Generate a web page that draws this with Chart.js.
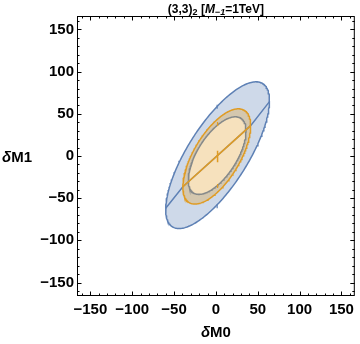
<!DOCTYPE html>
<html><head><meta charset="utf-8">
<script src="https://cdn.jsdelivr.net/npm/chart.js@4/dist/chart.umd.min.js"></script>
<style>html,body{margin:0;padding:0;background:#fff}canvas{display:block}</style>
</head><body>
<canvas id="c" width="360" height="344"></canvas>
<script>
// ---- axes ----
const xRange = [-166, 166];
const yRange = [-166, 166];
const tickValues = [-150, -100, -50, 0, 50, 100, 150];
const minorTickStep = 10;

// ---- confidence ellipses: [outer blue, inner blue, orange] ----
const ellipseCenterX = [2, 1.5, 1];
const ellipseCenterY = [1, 0.5, -0.5];
const ellipseHalfWidth = [62, 34.5, 40.5];
const ellipseHalfHeight = [87, 46, 56.5];
const ellipseCorrelation = [0.742, 0.63, 0.642];

// ---- lines through the ellipses ----
const blueLineX = [-60, -39.5, 41.5, 64];
const blueLineY = [-62, -36.5, 36, 64.5];
const orangeLineX = [-39.5, 41.5];
const orangeLineY = [-36.5, 36];

// ---- small markers ----
const blueTickX = [1.5, 1.5];
const blueTickY = [58.5, -59.5];
const orangeTickX = [2, 2];
const orangeTickY = [38, -35.5];
const centerBarX = [2, 2];
const centerBarY = [-7.5, 6.3];

const BLUE = '#5E81B5';
const ORANGE = '#E09C24';

function ellipsePoints(i) {
  const pts = [];
  const n = 240;
  const r = ellipseCorrelation[i];
  const s = Math.sqrt(1 - r * r);
  for (let k = 0; k <= n; k++) {
    const t = 2 * Math.PI * k / n;
    pts.push({
      x: ellipseCenterX[i] + ellipseHalfWidth[i] * Math.cos(t),
      y: ellipseCenterY[i] + ellipseHalfHeight[i] * (r * Math.cos(t) + s * Math.sin(t))
    });
  }
  return pts;
}
const zip = (xs, ys) => xs.map((x, i) => ({x, y: ys[i]}));

const datasets = [
  {data: ellipsePoints(0), borderColor: BLUE, borderWidth: 1.5, backgroundColor: 'rgba(94,129,181,0.3)', fill: 'shape', pointRadius: 0, order: 10},
  {data: ellipsePoints(1), borderColor: BLUE, borderWidth: 1.5, backgroundColor: '#ffffff', fill: 'shape', pointRadius: 0, order: 9},
  {data: zip(blueLineX, blueLineY), borderColor: BLUE, borderWidth: 1.5, fill: false, pointRadius: 0, order: 8},
  {data: ellipsePoints(2), borderColor: ORANGE, borderWidth: 1.5, backgroundColor: 'rgba(224,156,36,0.3)', fill: 'shape', pointRadius: 0, order: 7},
  {data: zip(orangeLineX, orangeLineY), borderColor: ORANGE, borderWidth: 1.5, fill: false, pointRadius: 0, order: 6},
  {data: zip(blueTickX, blueTickY), showLine: false, pointStyle: 'line', rotation: 90, pointRadius: 2, borderColor: BLUE, borderWidth: 1.2, order: 5},
  {data: zip(orangeTickX, orangeTickY), showLine: false, pointStyle: 'line', rotation: 90, pointRadius: 2, borderColor: ORANGE, borderWidth: 1.2, order: 4},
  {data: zip(centerBarX, centerBarY), borderColor: ORANGE, borderWidth: 1.5, fill: false, pointRadius: 0, order: 3}
];

const fmt = v => (v < 0 ? '\u2212' + Math.abs(v) : String(v));
const FONT = "'Liberation Sans', Arial, sans-serif";

function drawRuns(ctx, runs, x, baseline, align) {
  let total = 0;
  runs.forEach(r => { ctx.font = r.f; total += ctx.measureText(r.t).width; });
  let cx = align === 'center' ? x - total / 2 : x;
  runs.forEach(r => {
    ctx.font = r.f;
    ctx.fillText(r.t, cx, baseline + (r.dy || 0));
    cx += ctx.measureText(r.t).width;
  });
}

const framePlugin = {
  id: 'frame',
  afterDraw(chart) {
    const {ctx, chartArea: a, scales: {x, y}} = chart;
    ctx.save();
    ctx.strokeStyle = '#000';
    ctx.lineWidth = 1;
    ctx.strokeRect(a.left + 0.5, a.top + 0.5, a.right - a.left - 1, a.bottom - a.top - 1);
    ctx.beginPath();
    const startV = Math.ceil(xRange[0] / minorTickStep) * minorTickStep;
    for (let v = startV; v <= xRange[1]; v += minorTickStep) {
      const len = v % 50 === 0 ? 4.5 : 2.5;
      const px = Math.round(x.getPixelForValue(v)) + 0.5;
      ctx.moveTo(px, a.bottom); ctx.lineTo(px, a.bottom - len);
      ctx.moveTo(px, a.top); ctx.lineTo(px, a.top + len);
    }
    const startY = Math.ceil(yRange[0] / minorTickStep) * minorTickStep;
    for (let v = startY; v <= yRange[1]; v += minorTickStep) {
      const len = v % 50 === 0 ? 4.5 : 2.5;
      const py = Math.round(y.getPixelForValue(v)) + 0.5;
      ctx.moveTo(a.left, py); ctx.lineTo(a.left + len, py);
      ctx.moveTo(a.right, py); ctx.lineTo(a.right - len, py);
    }
    ctx.stroke();

    ctx.fillStyle = '#000';
    ctx.textBaseline = 'alphabetic';
    ctx.textAlign = 'left';
    const b12 = 'bold 12px ' + FONT, b9 = 'bold 9px ' + FONT;
    drawRuns(ctx, [
      {t: '(3,3)', f: b12},
      {t: '2', f: b9, dy: 2.5},
      {t: ' [', f: b12},
      {t: 'M', f: 'italic ' + b12},
      {t: '\u22121', f: 'italic ' + b9, dy: 2.5},
      {t: '=1TeV]', f: b12}
    ], (a.left + a.right) / 2, 12.5, 'center');
    const b15 = 'bold 15px ' + FONT;
    drawRuns(ctx, [{t: '\u03b4', f: 'italic ' + b15}, {t: 'M0', f: b15}], (a.left + a.right) / 2, 337, 'center');
    drawRuns(ctx, [{t: '\u03b4', f: 'italic ' + b15}, {t: 'M1', f: b15}], 2, 162, 'left');
    ctx.restore();
  }
};

const tickFont = {family: FONT, size: 15, weight: 'bold'};

new Chart(document.getElementById('c'), {
  type: 'line',
  data: {datasets},
  options: {
    responsive: false,
    animation: false,
    devicePixelRatio: 1,
    layout: {padding: {top: 16, right: 3, left: 0, bottom: 0}},
    plugins: {legend: {display: false}, tooltip: {enabled: false}, title: {display: false}},
    elements: {line: {tension: 0}},
    scales: {
      x: {
        type: 'linear', min: xRange[0], max: xRange[1],
        afterFit(s) { s.height = 48; },
        afterBuildTicks(s) { s.ticks = tickValues.map(v => ({value: v})); },
        grid: {display: false, drawTicks: false},
        border: {display: false},
        ticks: {padding: 5, font: tickFont, color: '#000', maxRotation: 0, autoSkip: false, callback: v => fmt(v)}
      },
      y: {
        type: 'linear', min: yRange[0], max: yRange[1],
        afterFit(s) { s.width = 77; },
        afterBuildTicks(s) { s.ticks = tickValues.map(v => ({value: v})); },
        grid: {display: false, drawTicks: false},
        border: {display: false},
        ticks: {padding: 3, font: tickFont, color: '#000', autoSkip: false, callback: v => fmt(v)}
      }
    }
  },
  plugins: [framePlugin]
});
</script>
</body></html>
